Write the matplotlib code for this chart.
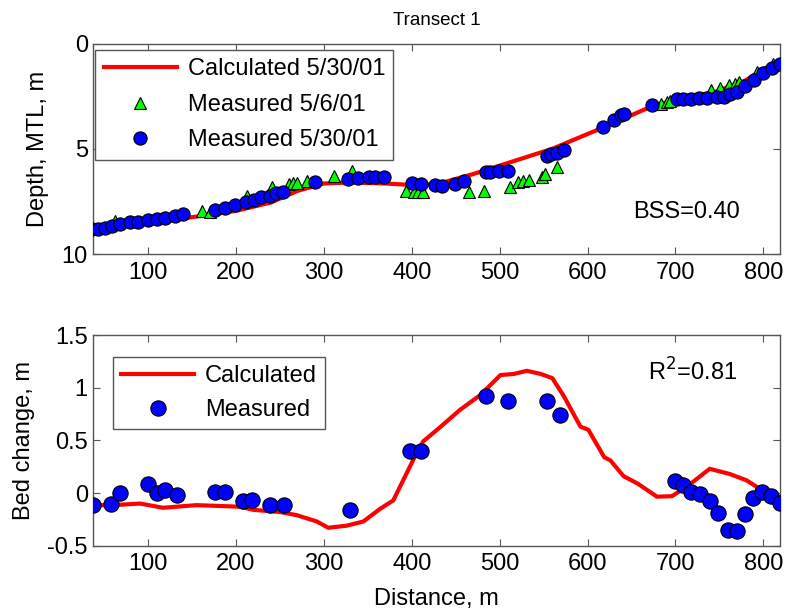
import matplotlib
matplotlib.use("Agg")
import matplotlib.pyplot as plt

plt.rcParams['font.family'] = ['Liberation Sans', 'DejaVu Sans']

# ---- Top panel data (Transect 1 depth profiles) ----
calc_x = [37, 100, 150, 200, 240, 270, 300, 330, 370, 400, 420, 440, 470, 500,
          560, 620, 675, 720, 745, 780, 800, 819]
calc_depth = [8.85, 8.55, 8.25, 7.95, 7.55, 7.0, 6.65, 6.6, 6.65, 6.72, 6.7, 6.55,
              6.2, 5.8, 5.0, 3.95, 2.95, 2.5, 2.3, 1.75, 1.2, 0.85]

m530_x = [36, 43, 51, 59, 68, 79, 89, 100, 110, 119, 131, 140, 176, 188, 199, 211,
          220, 229, 239, 246, 254, 290, 328, 339, 351, 358, 368, 400, 411, 427, 434,
          449, 459, 484, 489, 499, 510, 554, 559, 565, 573, 618, 630, 638, 641, 673,
          702, 709, 718, 727, 736, 747, 755, 762, 770, 779, 789, 800, 810, 819]
m530_depth = [8.82, 8.82, 8.74, 8.66, 8.58, 8.5, 8.46, 8.39, 8.34, 8.3, 8.19, 8.1,
              7.92, 7.79, 7.68, 7.55, 7.44, 7.31, 7.23, 7.12, 7.03, 6.6, 6.44, 6.39,
              6.36, 6.33, 6.33, 6.63, 6.67, 6.72, 6.75, 6.67, 6.52, 6.12, 6.12, 6.04,
              6.07, 5.32, 5.24, 5.19, 5.08, 3.97, 3.65, 3.41, 3.33, 2.94, 2.62, 2.62,
              2.62, 2.6, 2.57, 2.54, 2.52, 2.38, 2.3, 2.03, 1.71, 1.42, 1.18, 0.98]

m506_x = [62, 161, 170, 212, 241, 260, 265, 270, 281, 311, 332, 394, 402, 407, 413,
          465, 482, 512, 521, 527, 533, 548, 552, 565, 684, 690, 694, 740, 751, 761,
          768, 772, 793, 811]
m506_depth = [8.42, 7.95, 7.98, 7.23, 6.83, 6.67, 6.64, 6.62, 6.52, 6.28, 6.04, 6.99,
              7.07, 7.07, 7.07, 7.07, 6.99, 6.83, 6.6, 6.52, 6.48, 6.36, 6.2, 5.88,
              2.86, 2.78, 2.72, 2.22, 2.09, 1.98, 1.9, 1.82, 1.35, 0.95]

# ---- Bottom panel data (bed change) ----
bc_calc_x = [36, 60, 91, 117, 155, 205, 220, 250, 269, 292, 305, 326, 345, 364, 379,
             402, 413, 433, 455, 478, 501, 516, 531, 547, 560, 573, 592, 601, 619, 626,
             641, 657, 679, 696, 713, 739, 762, 781, 796, 819]
bc_calc = [-0.115, -0.115, -0.1, -0.14, -0.115, -0.13, -0.16, -0.18, -0.21, -0.27,
           -0.33, -0.31, -0.27, -0.15, -0.07, 0.32, 0.49, 0.63, 0.79, 0.93, 1.12,
           1.13, 1.16, 1.13, 1.09, 0.92, 0.63, 0.6, 0.34, 0.31, 0.16, 0.09, -0.035,
           -0.03, 0.06, 0.23, 0.18, 0.12, 0.04, -0.07]

bc_meas_x = [37, 58, 68, 100, 110, 119, 133, 176, 188, 208, 218, 239, 255, 330, 398,
             410, 484, 510, 554, 569, 700, 709, 718, 728, 739, 749, 760, 770, 779, 788,
             799, 809, 819]
bc_meas = [-0.115, -0.1, -0.003, 0.09, 0.003, 0.03, -0.02, 0.01, 0.005, -0.08,
           -0.065, -0.115, -0.115, -0.16, 0.4, 0.4, 0.92, 0.87, 0.87, 0.74, 0.11,
           0.08, 0.01, -0.01, -0.08, -0.19, -0.35, -0.36, -0.2, -0.05, 0.01, -0.03,
           -0.09]

xticks = [100, 200, 300, 400, 500, 600, 700, 800]

FS = 17
spine_col = '#555555'

fig = plt.figure(figsize=(7.87, 6.13), dpi=100)
ax1 = fig.add_axes([0.1178, 0.5856, 0.8733, 0.3434])
ax2 = fig.add_axes([0.1178, 0.1098, 0.8733, 0.3437])

for ax in (ax1, ax2):
    ax.set_xlim(37, 819)
    ax.set_xticks(xticks)
    ax.tick_params(direction='in', top=True, right=True, labelsize=FS,
                   length=5, width=0.8, color=spine_col)
    ax.tick_params(axis='x', pad=5.5)
    for s in ax.spines.values():
        s.set_color(spine_col)
        s.set_linewidth(1.0)

leg_kw = dict(fontsize=FS, numpoints=1, fancybox=False, edgecolor=spine_col,
              framealpha=1, handlelength=3.1, borderaxespad=0.0,
              handletextpad=0.45, borderpad=0.35, loc='upper left')

# Top
ax1.plot(calc_x, calc_depth, color='#ff0000', lw=3, label='Calculated 5/30/01', zorder=2)
ax1.plot(m506_x, m506_depth, ls='none', marker='^', ms=9, mfc='#00ff00', mec='black',
         mew=0.8, label='Measured 5/6/01', zorder=3)
ax1.plot(m530_x, m530_depth, ls='none', marker='o', ms=9.5, mfc='#0000ff', mec='black',
         mew=0.8, label='Measured 5/30/01', zorder=4)
ax1.set_ylim(10, 0)
ax1.set_yticks([0, 5, 10])
ax1.set_ylabel('Depth, MTL, m', fontsize=FS, labelpad=9)
ax1.set_title('Transect 1', fontsize=13.5, pad=13)
ax1.text(0.786, 0.2, 'BSS=0.40', transform=ax1.transAxes, fontsize=FS, va='center')
leg1 = ax1.legend(bbox_to_anchor=(0.004, 0.97), labelspacing=0.58, **leg_kw)
leg1.get_frame().set_linewidth(1.0)

# Bottom
ax2.plot(bc_calc_x, bc_calc, color='#ff0000', lw=3, label='Calculated', zorder=2)
ax2.plot(bc_meas_x, bc_meas, ls='none', marker='o', ms=11, mfc='#0000ff', mec='black',
         mew=0.8, label='Measured', zorder=3)
ax2.set_ylim(-0.5, 1.5)
ax2.set_yticks([-0.5, 0, 0.5, 1, 1.5])
ax2.set_yticklabels(['-0.5', '0', '0.5', '1', '1.5'])
ax2.set_ylabel('Bed change, m', fontsize=FS, labelpad=9)
ax2.set_xlabel('Distance, m', fontsize=FS, labelpad=9)
ax2.text(0.808, 0.824, r'R$^2$=0.81', transform=ax2.transAxes, fontsize=FS, va='center')
leg2 = ax2.legend(bbox_to_anchor=(0.0295, 0.896), labelspacing=0.5, **leg_kw)
leg2.get_frame().set_linewidth(1.0)

fig.savefig('out.png', dpi=100)
